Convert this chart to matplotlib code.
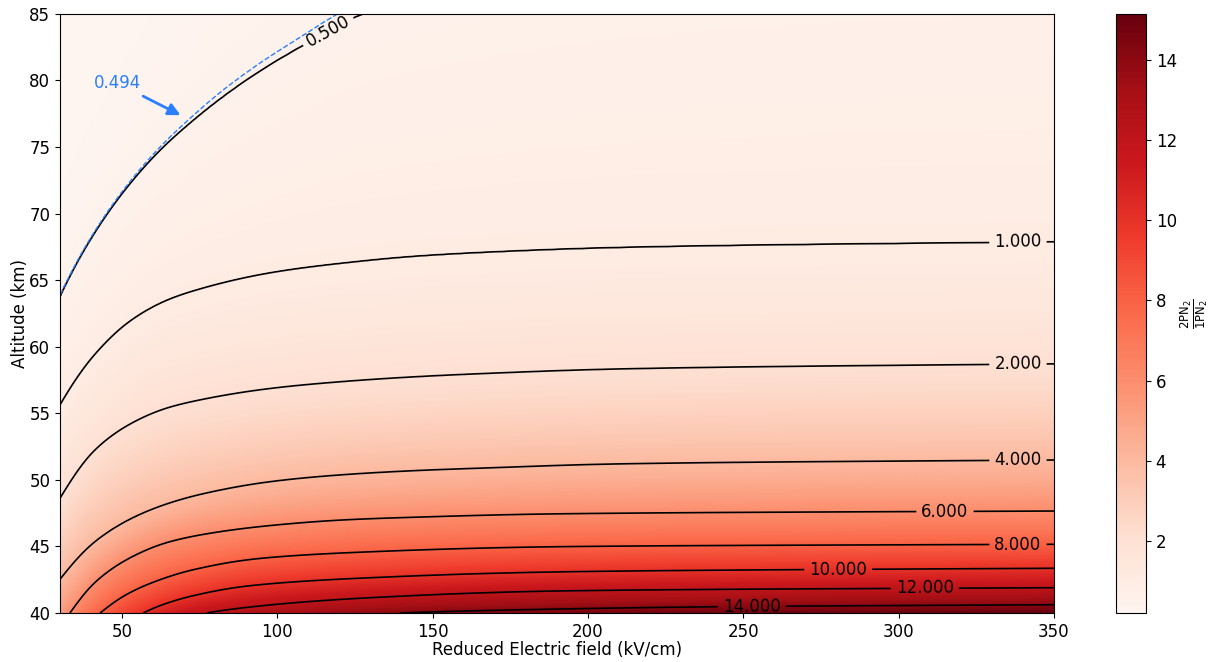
import numpy as np
import matplotlib
matplotlib.use("Agg")
import matplotlib.pyplot as plt

# contour levels of the band ratio and where each line sits (E in kV/cm, altitude in km)
levels = [0.494, 0.5, 1.0, 2.0, 4.0, 6.0, 8.0, 10.0, 12.0, 14.0]

E_0p494 = [30, 40.7, 51.5, 62.2, 72.9, 81.5, 94.4, 107.3, 125.6, 150, 200, 250, 350]
h_0p494 = [63.83, 68.48, 72.1, 75.0, 77.38, 79.1, 81.32, 83.25, 85.75, 87.6, 90.0, 91.4, 92.8]

E_0p5 = [30, 40.7, 51.5, 62.2, 72.9, 81.5, 94.4, 107.3, 125.6, 150, 200, 250, 350]
h_0p5 = [63.8, 68.4, 71.95, 74.75, 77.0, 78.6, 80.7, 82.5, 84.8, 86.6, 89.0, 90.4, 91.8]

E_1 = [30, 41.5, 53, 64.5, 76, 99, 122, 145, 168, 210.3, 350]
h_1 = [55.63, 59.5, 62.0, 63.5, 64.4, 65.6, 66.3, 66.8, 67.1, 67.45, 67.87]

E_2 = [30, 41.5, 53, 64.5, 76, 99, 122, 145, 168, 210.3, 350]
h_2 = [48.62, 52.3, 54.25, 55.4, 56.05, 56.9, 57.4, 57.75, 58.0, 58.33, 58.71]

E_4 = [30, 41.5, 53, 64.5, 76, 99, 122, 145, 168, 210.3, 350]
h_4 = [42.53, 45.4, 47.1, 48.2, 48.95, 49.9, 50.4, 50.7, 50.9, 51.2, 51.49]

E_6 = [30, 33.2, 41.5, 53, 64.5, 76, 99, 122, 145, 191, 350]
h_6 = [38.9, 40.0, 42.35, 44.2, 45.3, 45.9, 46.6, 47.0, 47.2, 47.45, 47.66]

E_8 = [30, 36, 42.9, 51.5, 62.2, 72.9, 94.4, 130, 194.2, 350]
h_8 = [36.9, 38.55, 40.0, 41.4, 42.5, 43.25, 44.1, 44.6, 44.99, 45.16]

E_10 = [30, 45, 56.8, 62.2, 72.9, 91.2, 130, 194.2, 350]
h_10 = [35.3, 38.35, 40.0, 40.55, 41.3, 42.05, 42.65, 43.1, 43.36]

E_12 = [30, 60, 77.2, 91.2, 130, 194.2, 350]
h_12 = [34.0, 39.0, 40.0, 40.45, 41.15, 41.67, 41.9]

E_14 = [30, 60, 100, 134, 191, 241.4, 350]
h_14 = [33.0, 37.8, 39.4, 39.95, 40.3, 40.47, 40.62]

tracks = [(E_0p494, h_0p494), (E_0p5, h_0p5), (E_1, h_1), (E_2, h_2), (E_4, h_4),
          (E_6, h_6), (E_8, h_8), (E_10, h_10), (E_12, h_12), (E_14, h_14)]

label_E = [116.3, 338.4, 338.4, 338.4, 314.9, 338.4, 280.5, 308.4, 252.7]
label_h = [83.7, 67.9, 58.7, 51.5, 47.7, 45.2, 43.4, 41.9, 40.6]

blue = "#2b7fff"


def pchip(x, y, xi):
    # monotone cubic through the traced points
    x = np.asarray(x, float)
    y = np.asarray(y, float)
    h = np.diff(x)
    d = np.diff(y) / h
    m = np.zeros_like(y)
    m[0], m[-1] = d[0], d[-1]
    for k in range(1, len(x) - 1):
        if d[k - 1] * d[k] > 0:
            w1 = 2 * h[k] + h[k - 1]
            w2 = h[k] + 2 * h[k - 1]
            m[k] = (w1 + w2) / (w1 / d[k - 1] + w2 / d[k])
    i = np.clip(np.searchsorted(x, xi) - 1, 0, len(x) - 2)
    t = (xi - x[i]) / h[i]
    return ((2 * t**3 - 3 * t**2 + 1) * y[i] + (t**3 - 2 * t**2 + t) * h[i] * m[i]
            + (-2 * t**3 + 3 * t**2) * y[i + 1] + (t**3 - t**2) * h[i] * m[i + 1])


# rebuild the field column by column: log(ratio) linear in altitude between traced lines
E = np.linspace(30, 350, 641)
alt = np.linspace(40, 85, 601)
H = np.array([pchip(np.log(e), h, np.log(E)) for e, h in tracks])
lv = np.log(levels)[::-1]
Z = np.empty((len(alt), len(E)))
for j in range(len(E)):
    hh = H[::-1, j]
    z = np.interp(alt, hh, lv)
    lo = alt < hh[0]
    z[lo] = lv[0] + (alt[lo] - hh[0]) * (lv[1] - lv[0]) / (hh[1] - hh[0])
    hi = alt > hh[-1]
    z[hi] = lv[-1] + (alt[hi] - hh[-1]) * (lv[-2] - lv[-3]) / (hh[-2] - hh[-3])
    Z[:, j] = np.exp(z)

fig = plt.figure(figsize=(12.27, 6.62), dpi=100)
ax = fig.add_axes([0.0489, 0.074, 0.8101, 0.905])
cax = fig.add_axes([0.9095, 0.074, 0.0245, 0.905])

im = ax.imshow(Z, origin="lower", extent=[30, 350, 40, 85], aspect="auto",
               cmap="Reds", vmin=0.2, vmax=15.15, interpolation="bilinear")

cs = ax.contour(E, alt, Z, levels=levels[1:], colors="k", linewidths=1.2)
ax.clabel(cs, fmt="%1.3f", fontsize=12, inline=True,
          manual=list(zip(label_E, label_h)))
ax.contour(E, alt, Z, levels=levels[:1], colors=blue,
           linestyles="--", linewidths=1.0)

ax.annotate("%.3f" % levels[0], xy=(69.6, 77.3), xytext=(48.5, 79.8),
            ha="center", va="center", color=blue, fontsize=12,
            arrowprops=dict(arrowstyle="-|>", color=blue, lw=2, mutation_scale=18))

ax.set_xlim(30, 350)
ax.set_ylim(40, 85)
ax.set_xticks([50, 100, 150, 200, 250, 300, 350])
ax.set_yticks(np.arange(40, 86, 5))
ax.tick_params(labelsize=12)
ax.set_xlabel("Reduced Electric field (kV/cm)", fontsize=12, labelpad=0)
ax.set_ylabel("Altitude (km)", fontsize=12, labelpad=0)

cb = fig.colorbar(im, cax=cax)
cb.set_ticks([2, 4, 6, 8, 10, 12, 14])
cb.ax.tick_params(labelsize=12)
cb.set_label(r"$\frac{\mathrm{2PN_2}}{\mathrm{1PN_2}}$", fontsize=12, labelpad=1)

fig.savefig("out.png", dpi=100)
